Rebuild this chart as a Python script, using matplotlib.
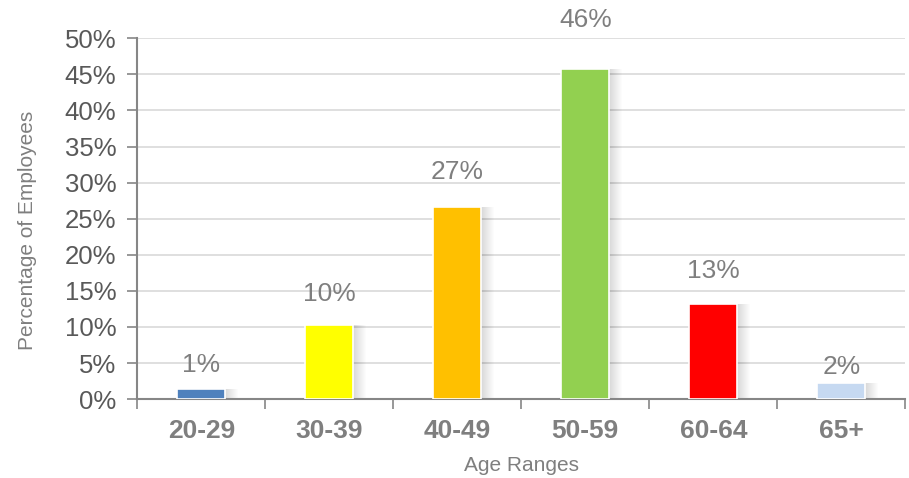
import matplotlib.pyplot as plt
import numpy as np

plt.rcParams['font.family'] = ['Liberation Sans', 'DejaVu Sans']

# values (percent)
age_ranges = ['20-29', '30-39', '40-49', '50-59', '60-64', '65+']
percentages = [1.4, 10.3, 26.6, 45.8, 13.2, 2.2]
labels = ['1%', '10%', '27%', '46%', '13%', '2%']
colors = ['#4F81BD', '#FFFF00', '#FFC000', '#92D050', '#FF0000', '#C6D9F1']
# gap (points) between bar top and the centre of its label
label_gap = [17, 22, 25, 35, 24, 12]

text_grey = '#7F7F7F'
axis_grey = '#868686'

fig = plt.figure(figsize=(9.09, 4.78), dpi=100)
ax = fig.add_axes([0.151, 0.165, 0.845, 0.755])

x = np.arange(len(age_ranges))
width = 0.375

# soft shadow on the right side of each bar
for i, v in enumerate(percentages):
    for k in range(12):
        ax.bar(x[i] + 0.012 + k * 0.008, v, width=width, color='black',
               alpha=0.012, linewidth=0, zorder=2)

bars = ax.bar(x, percentages, width=width, color=colors,
              edgecolor='white', linewidth=1.2, zorder=3)

for b, lab, g in zip(bars, labels, label_gap):
    ax.annotate(lab, (b.get_x() + b.get_width() / 2, b.get_height()),
                xytext=(0, g), textcoords='offset points',
                ha='center', va='center', fontsize=19, color=text_grey)

ax.set_xlim(-0.5, len(age_ranges) - 0.5)
ax.set_ylim(0, 50)
ax.set_yticks(np.arange(0, 51, 5))
ax.set_yticklabels([f'{t}%' for t in range(0, 51, 5)])
ax.yaxis.grid(True, color='#D9D9D9', linewidth=1.2, zorder=0)
ax.set_axisbelow(True)

ax.set_xticks(x)
ax.set_xticklabels(age_ranges, fontsize=19, fontweight='bold', color=text_grey)
ax.set_xticks(np.arange(-0.5, len(age_ranges)), minor=True)
ax.tick_params(axis='x', which='major', length=0, pad=14)
ax.tick_params(axis='x', which='minor', length=7, width=1.2, color=axis_grey)
ax.tick_params(axis='y', length=7, width=1.2, color=axis_grey,
               labelsize=18.5, labelcolor='#595959', pad=8)

for s in ['top', 'right']:
    ax.spines[s].set_visible(False)
for s in ['left', 'bottom']:
    ax.spines[s].set_color(axis_grey)
    ax.spines[s].set_linewidth(1.5)

ax.set_xlabel('Age Ranges', fontsize=15, color=text_grey, labelpad=10)
ax.set_ylabel('Percentage of Employees', fontsize=15, color=text_grey)
ax.yaxis.set_label_coords(-0.130, 0.468)

fig.savefig('out.png', dpi=100)
